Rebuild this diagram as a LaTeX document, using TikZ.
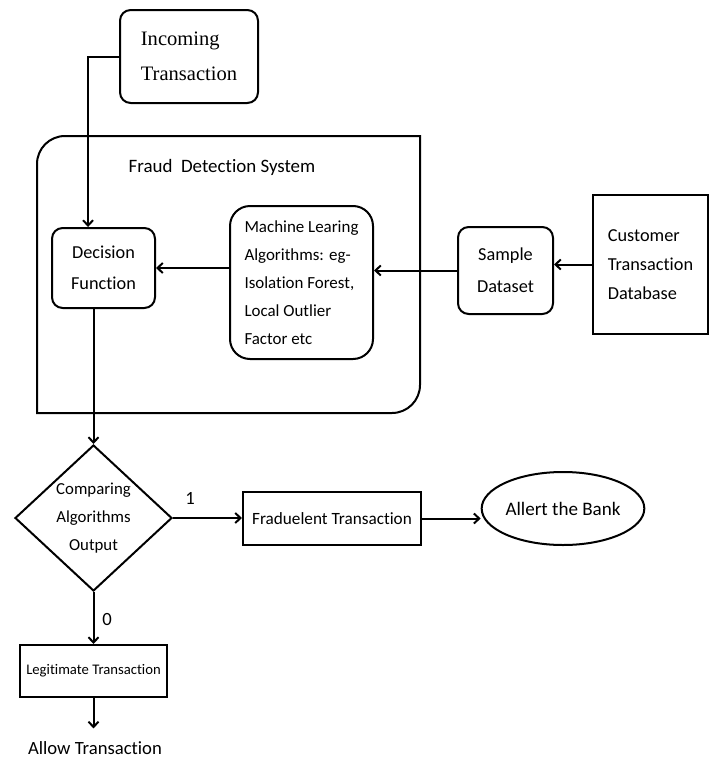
\documentclass[tikz,border=0pt]{standalone}
\usepackage{fontspec}
\setmainfont{Carlito}[Ligatures=NoCommon]
\newfontfamily\timesfont{Liberation Serif}
\usetikzlibrary{shapes.geometric,arrows.meta}

\begin{document}
\begin{tikzpicture}[x=0.75pt,y=-0.75pt,line width=1.5pt,
        >={Straight Barb[length=4pt,width=7.5pt]},
        box/.style={draw,inner sep=0pt,align=center},
        rbox/.style={box,rounded corners=8pt}]
        \useasboundingbox (0,0) rectangle (717,760);
        % Entrada
        \node[rbox,minimum width=103.5pt,minimum height=69.75pt,align=left,
            font=\timesfont\fontsize{15.4}{26.25}\selectfont]
            (inc) at (189,56.5) {Incoming\\Transaction};
        % Sistema de deteccion
        \draw (37,413) -- (37,250) [rounded corners=21pt] -- (37,136) -- (230,136)
            [sharp corners] -- (420,136) -- (420,250) [rounded corners=21pt]
            -- (420,413) -- (230,413) [sharp corners] -- cycle;
        \node[font=\fontsize{14.2}{17}\selectfont] (fds) at (222,167)
            {Fraud\ \ Detection System};
        \node[rbox,minimum width=77.25pt,minimum height=60pt,
            font=\fontsize{13.7}{23.25}\selectfont]
            (dec) at (103.5,268) {Decision\\Function};
        \node[rbox,rounded corners=15pt,minimum width=107.25pt,minimum height=114.75pt,
            align=left,font=\fontsize{12.7}{21}\selectfont]
            (ml) at (301.5,282.5)
            {Machine Learing\\Algorithms: eg-\\Isolation Forest,\\Local Outlier\\Factor etc};
        % Datos
        \node[rbox,minimum width=71.25pt,minimum height=65.25pt,
            font=\fontsize{13.7}{24}\selectfont]
            (samp) at (505.5,270.5) {Sample\\Dataset};
        \node[box,minimum width=86.25pt,minimum height=104.25pt,align=left,
            font=\fontsize{13.7}{21.75}\selectfont]
            (cust) at (650.5,264.5) {Customer\\Transaction\\Database};
        % Salida
        \node[box,diamond,aspect=1.075,minimum width=117.75pt,minimum height=109.5pt,
            font=\fontsize{12.6}{21}\selectfont]
            (dia) at (93.5,518) {Comparing\\Algorithms\\Output};
        \node[box,minimum width=133.5pt,minimum height=39.75pt,
            font=\fontsize{12.9}{15}\selectfont]
            (fraud) at (332,518.5) {Fraduelent Transaction};
        \node[box,ellipse,minimum width=112.5pt,minimum height=54.75pt,
            font=\fontsize{14.3}{17}\selectfont]
            (bank) at (563,508.5) {Allert the Bank};
        \node[box,minimum width=110.25pt,minimum height=39pt,
            font=\fontsize{11}{13}\selectfont]
            (legit) at (93.5,671) {Legitimate Transaction};
        \node[inner sep=9pt,font=\fontsize{14}{17}\selectfont]
            (allow) at (95,748) {Allow Transaction};
        \node[font=\fontsize{14}{17}\selectfont] (one) at (190,498) {1};
        \node[font=\fontsize{14}{17}\selectfont] (zero) at (107,619) {0};
        % Flechas
        \draw[->] (inc.west) -| ([xshift=-11.6pt]dec.north);
        \draw[->] (ml.west |- dec.east) -- (dec.east);
        \draw[->] (samp.west) -- (samp.west -| ml.east);
        \draw[->] (cust.west) -- (cust.west -| samp.east);
        \draw[->] (dec.south -| dia.north) -- (dia.north);
        \draw[->] (dia.east) -- (dia.east -| fraud.west);
        \draw[->] (fraud.east) -- (fraud.east -| bank.west);
        \draw[->] (dia.south) -- (legit.north);
        \draw[->] (legit.south) -- (legit.south |- allow.north);
    \end{tikzpicture}
\end{document}
